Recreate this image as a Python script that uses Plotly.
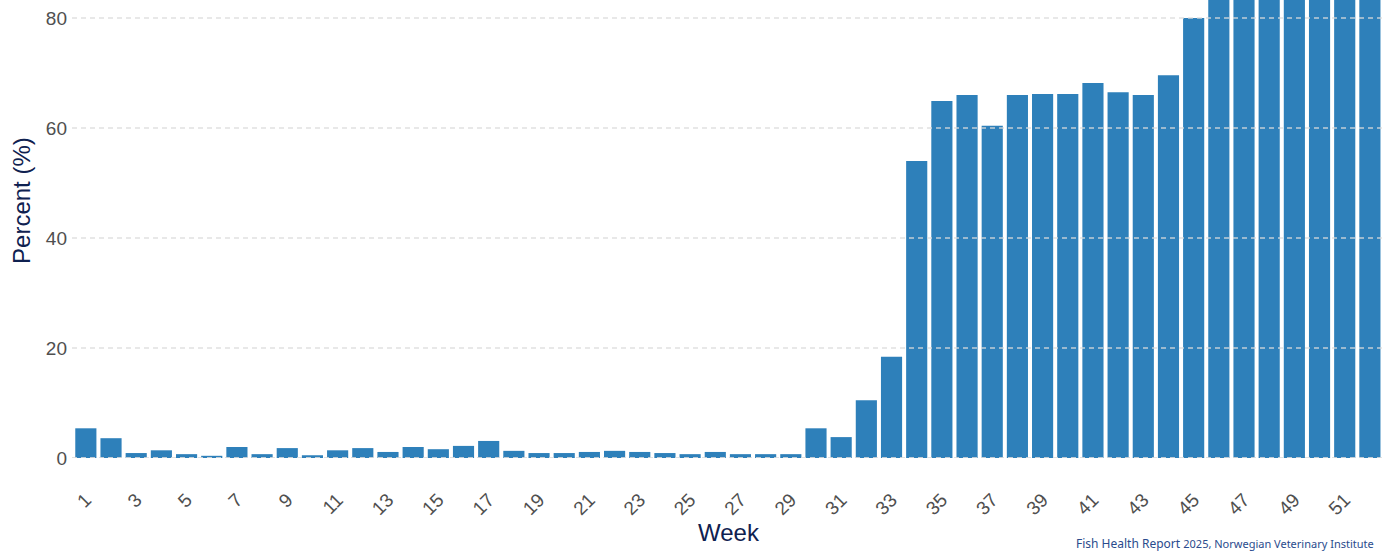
import plotly.graph_objects as go

# Weekly share (%) by week number
weeks = list(range(1, 53))
percent = [
    5.4, 3.6, 0.9, 1.4, 0.7, 0.4, 2.0, 0.7, 1.8, 0.5,
    1.4, 1.8, 1.1, 2.0, 1.6, 2.2, 3.1, 1.3, 0.9, 0.9,
    1.1, 1.3, 1.1, 0.9, 0.7, 1.1, 0.7, 0.7, 0.7, 5.4,
    3.8, 10.5, 18.4, 54.0, 64.9, 66.0, 60.4, 66.0, 66.2, 66.2,
    68.2, 66.5, 66.0, 69.6, 80.0, 88.0, 90.0, 91.0, 92.0, 92.0,
    93.0, 94.0,
]
y_ticks = [0, 20, 40, 60, 80]
x_ticks = list(range(1, 53, 2))

BAR = "#2e80ba"
NAVY = "#0f2150"
TICK = "#4f4f4f"

fig = go.Figure(
    go.Bar(
        x=weeks,
        y=percent,
        marker=dict(color=BAR, line=dict(width=0)),
        hoverinfo="skip",
    )
)

# dashed grid drawn over the bars
shapes = [
    dict(
        type="line", xref="paper", yref="y", x0=0, x1=1, y0=v, y1=v,
        line=dict(color="rgba(218,218,218,0.85)", width=2 if v == 0 else 1.5,
                  dash="5px,4px"),
        layer="above",
    )
    for v in y_ticks
]

fig.update_layout(
    width=1392,
    height=553,
    margin=dict(l=72, r=7, t=0, b=95),
    paper_bgcolor="white",
    plot_bgcolor="white",
    bargap=0.16,
    showlegend=False,
    shapes=shapes,
    font=dict(family="Liberation Sans, Arial, sans-serif"),
    xaxis=dict(
        range=[0.45, 52.6],
        tickmode="array",
        tickvals=x_ticks,
        ticktext=[str(w) for w in x_ticks],
        tickangle=-45,
        tickfont=dict(size=19, color=TICK),
        ticklabelstandoff=26,
        showgrid=False,
        zeroline=False,
        showline=False,
        ticks="",
        title=dict(text="Week", font=dict(size=24, color=NAVY), standoff=2),
    ),
    yaxis=dict(
        range=[0, 83.27],
        tickmode="array",
        tickvals=y_ticks,
        tickfont=dict(size=19, color=TICK),
        ticklabelstandoff=4,
        showgrid=False,
        zeroline=False,
        showline=False,
        ticks="",
    ),
    annotations=[
        dict(
            text="Percent (%)",
            xref="paper", yref="paper",
            x=-0.039, y=0.563,
            xanchor="center", yanchor="middle",
            textangle=-90,
            showarrow=False,
            font=dict(size=24, color=NAVY, family="Liberation Sans, Arial, sans-serif"),
        ),
        dict(
            text="Fish Health Report <span style='font-size:11px'>2025, Norwegian Veterinary Institute</span>",
            xref="paper", yref="paper",
            x=0.9935, y=-0.186,
            xanchor="right", yanchor="middle",
            showarrow=False,
            font=dict(size=12, color="#2a4b8d", family="Noto Sans, sans-serif"),
        ),
    ],
)

fig.write_html("out.html", config={"displayModeBar": False})
